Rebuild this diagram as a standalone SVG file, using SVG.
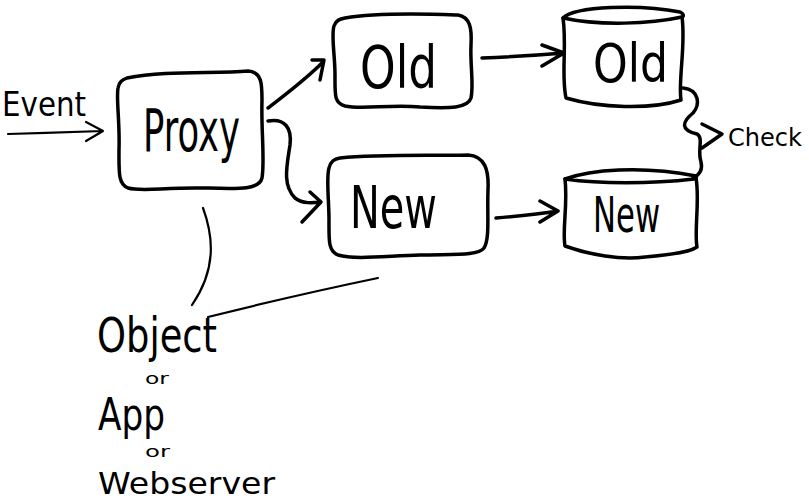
<svg xmlns="http://www.w3.org/2000/svg" width="809" height="504" viewBox="0 0 809 504">
<style>
.s{fill:none;stroke:#000;stroke-width:3.5;stroke-linecap:round;stroke-linejoin:round}
.t{fill:none;stroke:#000;stroke-width:2.2;stroke-linecap:round;stroke-linejoin:round}
.h{font-family:"DejaVu Sans","Liberation Sans",sans-serif;fill:#000;font-weight:normal}
</style>
<rect width="809" height="504" fill="#fff"/>
<g id="edges">
  <path class="t" d="M8,134 C40,133 70,132 103,131 M86,122 L103,131 L86,141"/>
  <path class="s" d="M268,108 C285,95 305,80 323,62 M312,60 L324,60 L320,80"/>
  <path class="s" d="M482,58 C510,57 540,55 564,53 M542,45 L564,53 L542,66"/>
  <path class="s" d="M268,121 C285,118 292,128 290,145 C287,165 282,185 295,198 C303,204 312,203 321,202 M310,192 L321,202 L302,222"/>
  <path class="s" d="M496,218 C520,216 540,214 558,211 M540,201 L558,211 L540,222"/>
  <path class="s" d="M683,88 C700,90 700,105 693,113 C682,122 680,130 697,134 C704,138 697,150 701,162 C703,170 699,175 693,178"/>
  <path class="s" d="M702,124 L722,134 L702,148"/>
  <path class="t" d="M203,208 C214,238 216,270 192,305"/>
  <path class="t" d="M208,317 C260,304 320,290 378,278"/>
</g>
<g id="event">
  <text class="h" x="2" y="116" font-size="34" textLength="84" lengthAdjust="spacingAndGlyphs">Event</text>
</g>
<g id="proxy">
  <path class="s" d="M127,78 C165,70 215,74 248,71 C262,72 262,84 262,100 C261,130 265,160 262,178 C259,190 240,189 205,188 C165,187 142,192 128,188 C118,184 119,172 119,150 C120,122 116,98 118,88 C119,82 122,80 127,78 Z"/>
  <text class="h" x="143" y="151" font-size="58" textLength="97" lengthAdjust="spacingAndGlyphs">Proxy</text>
</g>
<g id="old">
  <path class="s" d="M345,18 C380,12 430,14 458,15 C470,17 472,28 471,45 C470,65 474,85 471,98 C468,108 450,109 420,107 C390,104 362,110 345,106 C334,103 335,95 335,75 C335,55 331,35 334,26 C336,20 340,19 345,18 Z"/>
  <text class="h" x="360" y="88" font-size="58" textLength="77" lengthAdjust="spacingAndGlyphs">Old</text>
</g>
<g id="olddb">
  <path class="s" d="M563,18 C575,6 640,4 680,12 C684,14 684,16 682,17 C650,24 600,26 563,18 Z"/>
  <path class="s" d="M563,18 C567,45 561,75 566,98 C600,108 650,110 681,100 C678,80 686,45 682,17"/>
  <text class="h" x="593" y="82" font-size="54" textLength="75" lengthAdjust="spacingAndGlyphs">Old</text>
</g>
<g id="new">
  <path class="s" d="M340,158 C380,154 430,156 468,155 C485,156 489,170 488,190 C487,215 490,238 484,248 C478,256 455,254 420,255 C385,256 355,260 338,255 C328,251 329,240 329,220 C329,200 326,178 329,168 C331,161 334,159 340,158 Z"/>
  <text class="h" x="350" y="228" font-size="58" textLength="87" lengthAdjust="spacingAndGlyphs">New</text>
</g>
<g id="newdb">
  <path class="s" d="M565,179 C590,170 640,165 696,176 C697,178 696,179 694,179 C650,184 600,184 565,179 Z"/>
  <path class="s" d="M565,179 C568,205 562,230 565,246 C590,255 620,260 645,257 C670,255 690,252 697,247 C694,230 700,200 696,178"/>
  <text class="h" x="593" y="232" font-size="50" textLength="67" lengthAdjust="spacingAndGlyphs">New</text>
</g>
<g id="check">
  <text class="h" x="728" y="146" font-size="24" textLength="74" lengthAdjust="spacingAndGlyphs">Check</text>
</g>
<g id="object">
  <text class="h" x="97" y="352" font-size="48" textLength="120" lengthAdjust="spacingAndGlyphs">Object</text>
  <text class="h" x="145" y="384" font-size="15" font-weight="bold" textLength="24" lengthAdjust="spacingAndGlyphs">or</text>
  <text class="h" x="98" y="430" font-size="44" textLength="67" lengthAdjust="spacingAndGlyphs">App</text>
  <text class="h" x="145" y="457" font-size="15" font-weight="bold" textLength="25" lengthAdjust="spacingAndGlyphs">or</text>
  <text class="h" x="98" y="494" font-size="30" font-weight="bold" textLength="177" lengthAdjust="spacingAndGlyphs">Webserver</text>
</g>
</svg>
